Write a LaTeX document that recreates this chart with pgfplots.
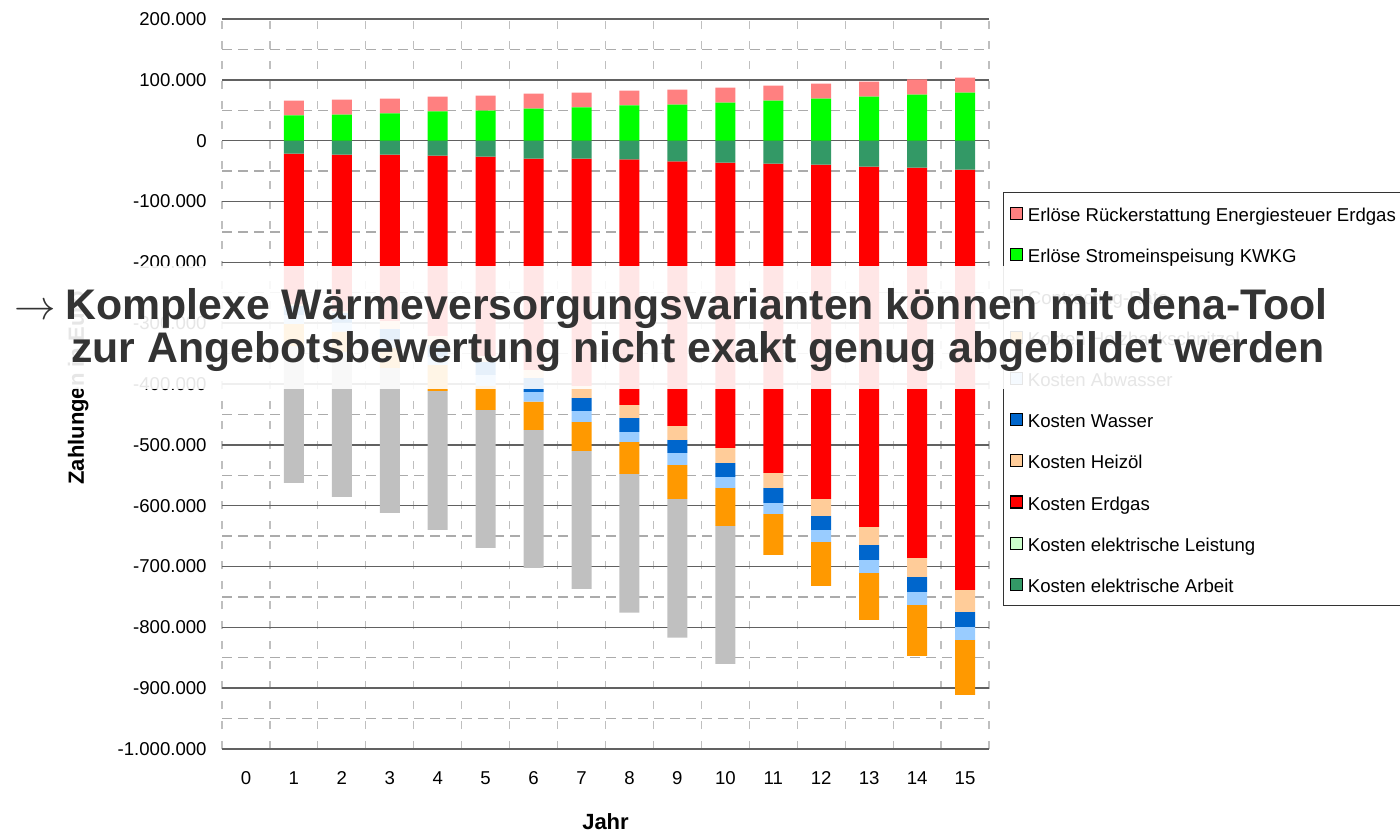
\documentclass[border=0pt]{standalone}
\usepackage{fontspec}
\setmainfont{Liberation Sans}
\usepackage{pgfplots}
\usepackage{pgfplotstable}
\pgfplotsset{compat=1.18}

\definecolor{cPink}{HTML}{FF8080}
\definecolor{cGreen}{HTML}{00FF00}
\definecolor{cSea}{HTML}{339966}
\definecolor{cPale}{HTML}{CCFFCC}
\definecolor{cRed}{HTML}{FF0000}
\definecolor{cPeach}{HTML}{FFCC99}
\definecolor{cBlue}{HTML}{0066CC}
\definecolor{cLBlue}{HTML}{99CCFF}
\definecolor{cOrange}{HTML}{FF9900}
\definecolor{cGray}{HTML}{C0C0C0}
\definecolor{cText}{HTML}{333333}

\pgfplotstableread{
year sg pl red peach blue lb orange gray
1 -21400 0 -246700 -3300 -14800 -14800 -36200 -225300
2 -23000 0 -256600 -3300 -16400 -14800 -32900 -238500
3 -23000 0 -273100 -13100 -19700 -11600 -32900 -238400
4 -24700 0 -296000 -14800 -19800 -13100 -42800 -228600
5 -26300 0 -327300 -9900 -21400 -18100 -39400 -227000
6 -29600 0 -347000 -13200 -23000 -16000 -46500 -227000
7 -29600 0 -373400 -19700 -21400 -18100 -47700 -226900
8 -30700 0 -403500 -21400 -23000 -16500 -52600 -228100
9 -34000 0 -434800 -23000 -21400 -19700 -55900 -228100
10 -36200 0 -468700 -24700 -23000 -18100 -62500 -227000
11 -37800 0 -508300 -24600 -24700 -18100 -67400 0
12 -39500 0 -549300 -28000 -23000 -19700 -72400 0
13 -42700 0 -592200 -29600 -24600 -21400 -77300 0
14 -44400 0 -641500 -31200 -24700 -21400 -83800 0
15 -47700 0 -690800 -36200 -24600 -21400 -90500 0
}\negdata

\pgfplotstableread{
year green pink
1 41600 24200
2 42700 24700
3 44900 24100
4 48200 24100
5 49300 24700
6 52600 24700
7 54800 24100
8 58100 24100
9 59200 24600
10 62500 24600
11 65800 24600
12 69000 24700
13 72300 24700
14 75600 25200
15 78900 24700
}\posdata

\pgfplotsset{
  baseaxis/.style={
    scale only axis, width=383.5pt, height=365pt,
    at={(111pt,-374.5pt)}, anchor=south west,
    xmin=-0.5, xmax=15.5, ymin=-1000000, ymax=200000,
  },
  sqleg/.style={legend image code/.code={\fill[##1] (0pt,-3pt) rectangle (6pt,3pt);}},
}

\begin{document}
\begin{tikzpicture}
\useasboundingbox (0pt,0pt) rectangle (700pt,-416.5pt);

% negative stack with grid and labels
\begin{axis}[baseaxis,
  ybar stacked, bar width=10pt,
  axis line style={draw=none},
  major tick length=0pt, minor tick length=0pt,
  xtick={0,1,2,3,4,5,6,7,8,9,10,11,12,13,14,15},
  minor xtick={-0.5,0.5,1.5,2.5,3.5,4.5,5.5,6.5,7.5,8.5,9.5,10.5,11.5,12.5,13.5,14.5,15.5},
  ytick={-1000000,-900000,-800000,-700000,-600000,-500000,-400000,-300000,-200000,-100000,0,100000,200000},
  minor ytick={-950000,-850000,-750000,-650000,-550000,-450000,-350000,-250000,-150000,-50000,50000,150000},
  ymajorgrids, yminorgrids, xminorgrids,
  major y grid style={draw=black!62, line width=0.75pt},
  minor y grid style={draw=black!33, line width=0.6pt, dash pattern=on 5pt off 3pt},
  minor x grid style={draw=black!25, line width=0.6pt, dash pattern=on 4pt off 6pt},
  scaled y ticks=false,
  /pgf/number format/assume math mode=true,
  yticklabel style={/pgf/number format/fixed, /pgf/number format/1000 sep={.}},
  yticklabel style={font=\fontsize{9.3}{11}\selectfont, inner sep=0pt, xshift=-7.5pt},
  xticklabel style={font=\fontsize{9.3}{11}\selectfont, inner sep=0pt, anchor=base, yshift=-17.5pt},
  xlabel={Jahr},
  xlabel style={font=\bfseries\fontsize{11}{13}\selectfont, at={(axis description cs:0.5,-0.1096)}, anchor=base, inner sep=0pt},
  ylabel={Zahlungen in Euro},
  ylabel style={font=\bfseries\fontsize{11}{13}\selectfont, at={(axis description cs:-0.18,0.3616)}, anchor=base west, inner sep=0pt},
]
\addplot[fill=cSea, draw=none] table[x=year, y=sg] {\negdata};
\addplot[fill=cPale, draw=none] table[x=year, y=pl] {\negdata};
\addplot[fill=cRed, draw=none] table[x=year, y=red] {\negdata};
\addplot[fill=cPeach, draw=none] table[x=year, y=peach] {\negdata};
\addplot[fill=cBlue, draw=none] table[x=year, y=blue] {\negdata};
\addplot[fill=cLBlue, draw=none] table[x=year, y=lb] {\negdata};
\addplot[fill=cOrange, draw=none] table[x=year, y=orange] {\negdata};
\addplot[fill=cGray, draw=none] table[x=year, y=gray] {\negdata};
\end{axis}

% positive stack
\begin{axis}[baseaxis, hide axis, ybar stacked, bar width=10pt]
\addplot[fill=cGreen, draw=none] table[x=year, y=green] {\posdata};
\addplot[fill=cPink, draw=none] table[x=year, y=pink] {\posdata};
\end{axis}

% legend
\begin{axis}[baseaxis, hide axis,
  legend style={at={(1.0183,0.763)}, anchor=north west, draw=black!80, line width=0.6pt,
    font=\fontsize{9.3}{11}\selectfont, inner xsep=3pt, inner ysep=6pt,
    row sep=11.6pt,
    nodes={inner sep=0pt, text height=8.5pt, text depth=0.5pt},
    /tikz/every odd column/.append style={column sep=2.5pt}},
  legend cell align=left,
]
\addlegendimage{sqleg, fill=cPink}
\addlegendimage{sqleg, fill=cGreen}
\addlegendimage{sqleg, fill=cGray}
\addlegendimage{sqleg, fill=cOrange}
\addlegendimage{sqleg, fill=cLBlue}
\addlegendimage{sqleg, fill=cBlue}
\addlegendimage{sqleg, fill=cPeach}
\addlegendimage{sqleg, fill=cRed}
\addlegendimage{sqleg, fill=cPale}
\addlegendimage{sqleg, fill=cSea}
\legend{Erlöse Rückerstattung Energiesteuer Erdgas, Erlöse Stromeinspeisung KWKG, Contracting-Rate, Kosten Holzhackschnitzel, Kosten Abwasser, Kosten Wasser, Kosten Heizöl, Kosten Erdgas, Kosten elektrische Leistung, Kosten elektrische Arbeit}
\end{axis}

% overlay band and headline
\begin{scope}[x=0.5pt, y=-0.5pt]
\fill[white, fill opacity=0.9] (0,266) rectangle (1400,389);
\node[anchor=base east, inner sep=0pt, text=cText, font=\fontsize{21.5}{21.5}\selectfont] at (56,320) {$\rightarrow$};
\node[anchor=base west, inner sep=0pt, text=cText, font=\bfseries\fontsize{21.4}{21.4}\selectfont] at (65,320) {Komplexe Wärmeversorgungsvarianten können mit dena-Tool};
\node[anchor=base west, inner sep=0pt, text=cText, font=\bfseries\fontsize{21.4}{21.4}\selectfont] at (71,362.5) {zur Angebotsbewertung nicht exakt genug abgebildet werden};
\end{scope}
\end{tikzpicture}
\end{document}
